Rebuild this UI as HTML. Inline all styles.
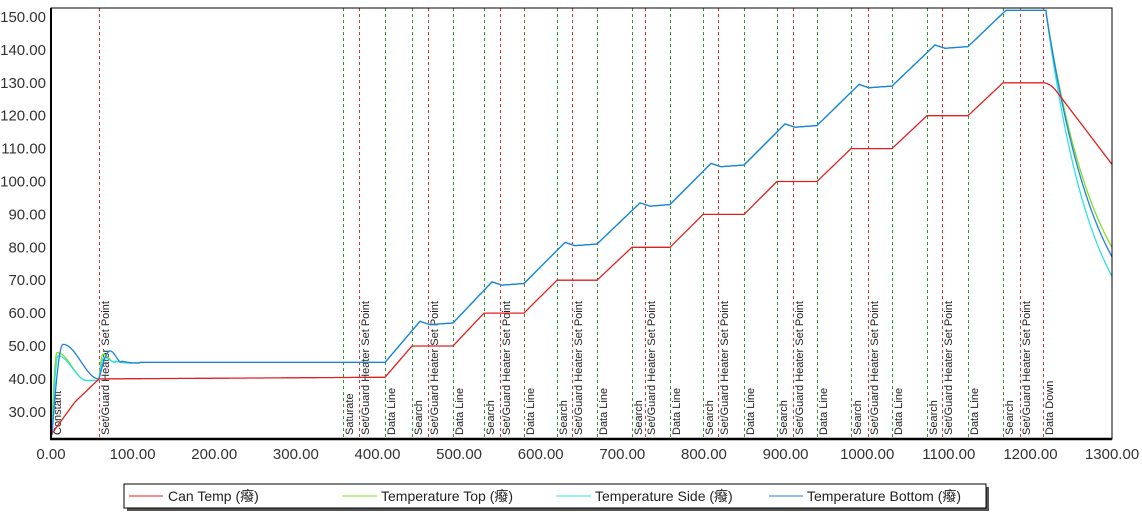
<!DOCTYPE html>
<html><head><meta charset="utf-8"><style>
html,body{margin:0;padding:0;background:#fff;width:1142px;height:514px;overflow:hidden}
svg{display:block}
text{font-family:"Liberation Sans","Noto Sans CJK SC",sans-serif}
</style></head><body>
<svg id="s" width="1142" height="514" xmlns="http://www.w3.org/2000/svg">
<rect x="0" y="0" width="1142" height="514" fill="#fff"/>
<g id="grid"></g>
<g id="curves" fill="none" stroke-width="1.3"></g>
<rect x="51" y="8" width="1061" height="431" fill="none" stroke="#000" stroke-width="1"/>
<line x1="51" y1="8" x2="51" y2="440" stroke="#000" stroke-width="2"/>
<line x1="50" y1="439" x2="1112" y2="439" stroke="#000" stroke-width="2.5"/>
<g id="axes" font-size="15" fill="#333"></g>
<rect x="127" y="487" width="862" height="24" fill="#555"/>
<rect x="124" y="484" width="862" height="24" fill="#fff" stroke="#000"/>
<g font-size="14" fill="#222">
<line x1="129" y1="496" x2="163" y2="496" stroke="#e02020"/><text x="168" y="501">Can Temp (癈)</text>
<line x1="342" y1="496" x2="377" y2="496" stroke="#80e020"/><text x="381" y="501">Temperature Top (癈)</text>
<line x1="556" y1="496" x2="591" y2="496" stroke="#30e0e8"/><text x="595" y="501">Temperature Side (癈)</text>
<line x1="769" y1="496" x2="803" y2="496" stroke="#2080e0"/><text x="807" y="501">Temperature Bottom (癈)</text>
</g>
</svg>
<script>
const NS="http://www.w3.org/2000/svg";
const X=t=>51+t*0.8162, Y=v=>17+(150-v)*3.29;
function el(p,tag,a,txt){const e=document.createElementNS(NS,tag);for(const k in a)e.setAttribute(k,a[k]);if(txt)e.textContent=txt;p.appendChild(e);return e;}
const ax=document.getElementById('axes');
for(let v=30;v<=150;v+=10){el(ax,'text',{x:46,y:Y(v)+5,'text-anchor':'end'},v.toFixed(2));}
for(let t=0;t<=1300;t+=100){el(ax,'text',{x:X(t),y:459,'text-anchor':'middle'},t.toFixed(2));}
const g=document.getElementById('grid');
const G='#2a9a2a',R='#e03030';
const lines=[[51,R,'Constant'],[99,R,'Set/Guard Heater Set Point'],[343,G,'Saturate'],[359,R,'Set/Guard Heater Set Point'],[385,G,'Data Line']];
const S=[412,484,557,632,703,777,851,927,1003],P=[428,500,572,645,718,793,868,942,1020],D=[453,524,597,670,744,817,892,968,1043];
for(let i=0;i<9;i++){lines.push([S[i],G,'Search']);lines.push([P[i],R,'Set/Guard Heater Set Point']);lines.push([D[i],i==8?R:(i==1?'#8a6a20':G),i==8?'Data Down':'Data Line']);}
for(const [x,c,l] of lines){
 el(g,'line',{x1:x+0.5,y1:8,x2:x+0.5,y2:439,stroke:c,'stroke-width':1,'stroke-dasharray':'3,3'});
 el(g,'text',{x:0,y:0,transform:`translate(${x+10},435) rotate(-90)`,'font-size':11,fill:'#222'},l);
}
function pts(f){let s='';for(let px=51;px<=1112;px+=0.5){s+=px+','+Y(f(px)).toFixed(1)+' ';}return s;}
function lerpSeq(seq,px){for(let i=0;i<seq.length-1;i++){const[a,va]=seq[i],[b,vb]=seq[i+1];if(px>=a&&px<=b)return va+(vb-va)*(px-a)/(b-a);}return seq[seq.length-1][1];}
const red=[[51,23],[75,33],[99,40],[385,40.5]];
for(let i=0;i<9;i++){red.push([S[i],50+10*i]);red.push([D[i],50+10*i]);}
function redF(px){if(px<=1043)return lerpSeq(red,px);const d=px-1043;return d<12?130-d*d*0.014:128-0.4*(d-12);}
function stepsF(px){
 const base=[[385,45]];
 for(let i=0;i<9;i++){const top=57.5+12*i;base.push([S[i]+8,top]);base.push([S[i]+18,top-1]);base.push([D[i],top-0.5]);}
 return lerpSeq(base,px);}
function decay(px,A,tau,start){return A+(start-A)*Math.exp(-(px-1046)/tau);}
function hump(px,p0,peak,pk,end,endv){ // rise from 23 to peak at pk, smooth decay to endv
 if(px<=pk){const u=(px-p0)/(pk-p0);return 23+(peak-23)*Math.sin(Math.max(0,u)*Math.PI/2);}
 const u=(px-pk)/(end-pk);return endv+(peak-endv)*(u>=1?0:0.5*(1+Math.cos(Math.PI*Math.min(1,u))));}
function after(px,peak,pk){ // bump after set point at 99
 const d=px-99;if(d<0)return 40;
 if(px<=pk){const u=d/(pk-99);return 40+(peak-40)*Math.sin(u*Math.PI/2);}
 const u=(px-pk)/12;return u>=1?45+0.4*Math.sin((px-pk)/6)*Math.exp(-(px-pk-12)/20):45+(peak-45)*0.5*(1+Math.cos(Math.PI*u));}
function blueF(px){
 if(px<99)return hump(px,52,50.5,63,99,40);
 if(px<140)return after(px,48.5,110);
 if(px<=385)return 45;
 if(px<=1046)return Math.min(152,stepsF(px));
 return decay(px,48,52,151.5);}
function greenF(px){
 if(px<99){if(px<87)return hump(px,51.5,48,57,87,39.5);return 39.5;}
 if(px<140)return after(px,47.5,103);
 if(px<=1046)return blueF(px);
 return decay(px,52,52,151.5);}
function cyanF(px){
 if(px<99){if(px<87)return hump(px,52,47,58,87,39.5);return 39.5;}
 if(px<140)return after(px,46.5,104);
 if(px<=1046)return blueF(px);
 return decay(px,44,48,151.5);}
const c=document.getElementById('curves');
el(c,'polyline',{points:pts(greenF),stroke:'#80e020'});
el(c,'polyline',{points:pts(cyanF),stroke:'#30e0e8'});
el(c,'polyline',{points:pts(blueF),stroke:'#2080e0'});
el(c,'polyline',{points:pts(redF),stroke:'#e02020'});
</script>
</body></html>
